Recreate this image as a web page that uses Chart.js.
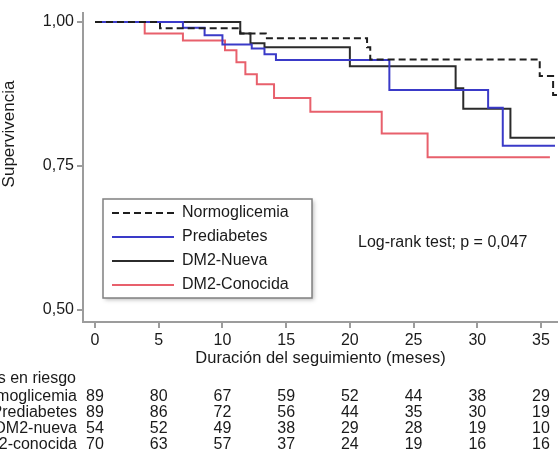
<!DOCTYPE html>
<html>
<head>
<meta charset="utf-8">
<script src="https://cdn.jsdelivr.net/npm/chart.js@4/dist/chart.umd.min.js"></script>
<style>
  html, body { margin: 0; padding: 0; background: #fff; }
  #wrap { width: 558px; height: 460px; }
</style>
</head>
<body>
<div id="wrap"><canvas id="kmChart" width="558" height="460"></canvas></div>
<script>
// tick labels
const xTicks = [0, 5, 10, 15, 20, 25, 30, 35];
const yTicks = [0.5, 0.75, 1.0];

// Kaplan-Meier steps: time (months) where survival changes, and new survival
const normoTime = [0, 5.1, 11.4, 13.4, 21.35, 21.6, 34.9, 35.95, 36.4];
const normoSurv = [1.0, 0.989, 0.980, 0.972, 0.956, 0.935, 0.906, 0.873, 0.873];

const prediTime = [0, 6.9, 8.6, 10.0, 12.3, 13.3, 14.2, 23.1, 30.85, 32.0, 36.1];
const prediSurv = [1.0, 0.990, 0.977, 0.961, 0.954, 0.944, 0.934, 0.882, 0.851, 0.785, 0.785];

const nuevaTime = [0, 11.4, 12.2, 13.3, 20.0, 28.3, 28.9, 32.6, 36.1];
const nuevaSurv = [1.0, 0.980, 0.963, 0.956, 0.923, 0.885, 0.849, 0.799, 0.799];

const conocTime = [0, 3.9, 6.9, 10.2, 11.1, 11.8, 12.7, 14.05, 16.9, 22.5, 26.1, 35.7];
const conocSurv = [1.0, 0.980, 0.968, 0.951, 0.930, 0.909, 0.892, 0.868, 0.844, 0.806, 0.765, 0.765];

// numbers at risk
const riskLabels = ["Normoglicemia", "Prediabetes", "DM2-nueva", "DM2-conocida"];
const riskNormo = [89, 80, 67, 59, 52, 44, 38, 29];
const riskPredi = [89, 86, 72, 56, 44, 35, 30, 19];
const riskNueva = [54, 52, 49, 38, 29, 28, 19, 10];
const riskConoc = [70, 63, 57, 37, 24, 19, 16, 16];

const FONT = "'Liberation Sans', Arial, Helvetica, sans-serif";
Chart.defaults.font.family = FONT;
Chart.defaults.color = "#1a1a1a";

function pts(t, s) {
  return t.map((v, i) => ({ x: v, y: s[i] }));
}

const axisGray = "#9c9c9c";

const overlay = {
  id: "overlay",
  afterDraw(chart) {
    const ctx = chart.ctx;
    const xs = chart.scales.x;
    ctx.save();

    // y title
    ctx.save();
    ctx.translate(9, 134);
    ctx.rotate(-Math.PI / 2);
    ctx.font = "17px " + FONT;
    ctx.fillStyle = "#1a1a1a";
    ctx.textAlign = "center";
    ctx.textBaseline = "middle";
    ctx.fillText("Supervivencia", 0, 0);
    ctx.restore();

    // legend box
    const bx = 103, by = 199, bw = 209, bh = 99;
    ctx.save();
    ctx.shadowColor = "rgba(0,0,0,0.25)";
    ctx.shadowBlur = 4;
    ctx.shadowOffsetX = 2;
    ctx.shadowOffsetY = 2;
    ctx.fillStyle = "#fff";
    ctx.fillRect(bx, by, bw, bh);
    ctx.restore();
    ctx.strokeStyle = "#808080";
    ctx.lineWidth = 1.5;
    ctx.strokeRect(bx, by, bw, bh);

    const rowsY = [213, 237, 261, 285];
    chart.data.datasets.forEach((ds, i) => {
      ctx.beginPath();
      ctx.strokeStyle = ds.borderColor;
      ctx.lineWidth = 2;
      ctx.setLineDash(ds.borderDash || []);
      ctx.moveTo(112, rowsY[i]);
      ctx.lineTo(174, rowsY[i]);
      ctx.stroke();
      ctx.setLineDash([]);
      ctx.font = "16px " + FONT;
      ctx.fillStyle = "#1a1a1a";
      ctx.textAlign = "left";
      ctx.textBaseline = "middle";
      ctx.fillText(ds.label, 182, rowsY[i]);
    });

    // log-rank text
    ctx.font = "16px " + FONT;
    ctx.textAlign = "left";
    ctx.textBaseline = "middle";
    ctx.fillText("Log-rank test; p = 0,047", 358, 243);

    // risk table
    ctx.textAlign = "right";
    ctx.fillText("Pacientes en riesgo", 76, 379);
    const rows = [riskNormo, riskPredi, riskNueva, riskConoc];
    const tableY = [397, 413, 429, 445];
    rows.forEach((r, i) => {
      ctx.textAlign = "right";
      ctx.fillText(riskLabels[i], 77, tableY[i]);
      ctx.textAlign = "center";
      r.forEach((n, j) => {
        ctx.fillText(String(n), xs.getPixelForValue(xTicks[j]), tableY[i]);
      });
    });
    ctx.restore();
  }
};

new Chart(document.getElementById("kmChart"), {
  type: "line",
  data: {
    datasets: [
      { label: "Normoglicemia", data: pts(normoTime, normoSurv), borderColor: "#1e1e1e", borderDash: [7, 4] },
      { label: "Prediabetes", data: pts(prediTime, prediSurv), borderColor: "#3a3ac8" },
      { label: "DM2-Nueva", data: pts(nuevaTime, nuevaSurv), borderColor: "#2b2b2b" },
      { label: "DM2-Conocida", data: pts(conocTime, conocSurv), borderColor: "#e8606c" }
    ]
  },
  options: {
    responsive: false,
    animation: false,
    events: [],
    layout: { padding: { top: 10, left: 0, right: 0, bottom: 0 } },
    elements: {
      line: { stepped: true, borderWidth: 2, fill: false, tension: 0 },
      point: { radius: 0 }
    },
    plugins: { legend: { display: false }, tooltip: { enabled: false } },
    scales: {
      x: {
        type: "linear",
        min: -0.942,
        max: 36.334,
        afterFit(s) { s.height = 138; },
        afterBuildTicks(s) { s.ticks = xTicks.map(v => ({ value: v })); },
        grid: { drawOnChartArea: false, drawTicks: true, tickLength: 6, color: axisGray, lineWidth: 2 },
        border: { display: true, color: axisGray, width: 2 },
        ticks: { font: { size: 16 }, padding: 3, maxRotation: 0, color: "#1a1a1a" },
        title: {
          display: true,
          text: "Duración del seguimiento (meses)",
          font: { size: 16.5 },
          color: "#1a1a1a",
          padding: { top: 0, bottom: 92 }
        }
      },
      y: {
        type: "linear",
        min: 0.4784,
        max: 1.0164,
        afterFit(s) { s.width = 83; },
        afterBuildTicks(s) { s.ticks = yTicks.map(v => ({ value: v })); },
        grid: { drawOnChartArea: false, drawTicks: true, tickLength: 6, color: axisGray, lineWidth: 2 },
        border: { display: true, color: axisGray, width: 2 },
        ticks: {
          font: { size: 16 },
          padding: 3,
          color: "#1a1a1a",
          callback: v => v.toFixed(2).replace(".", ",")
        }
      }
    }
  },
  plugins: [overlay]
});
</script>
</body>
</html>
